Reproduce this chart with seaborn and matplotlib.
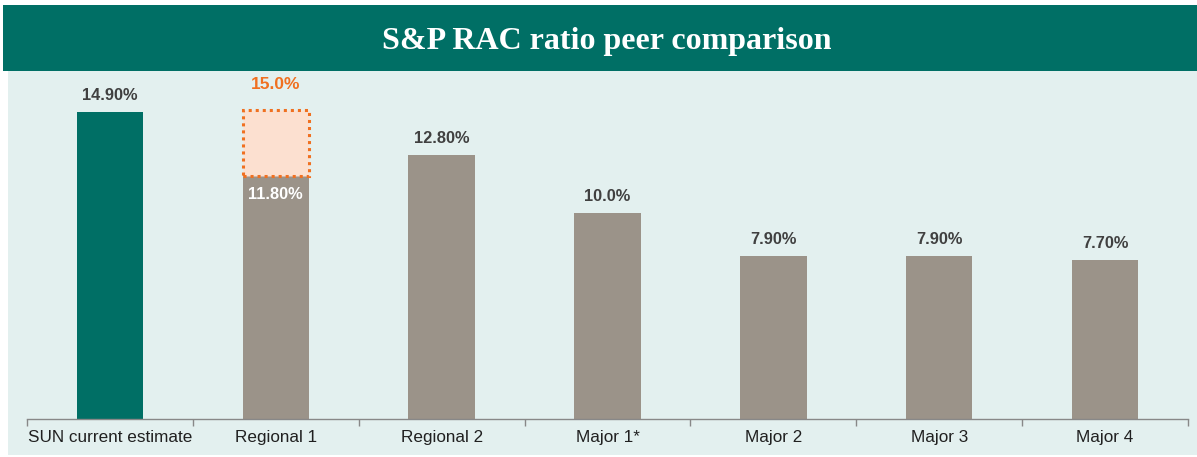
import matplotlib
matplotlib.use("Agg")
import matplotlib.pyplot as plt
import seaborn as sns
import pandas as pd
from matplotlib.patches import Rectangle

categories = ["SUN current estimate", "Regional 1", "Regional 2", "Major 1*", "Major 2", "Major 3", "Major 4"]
values = [14.9, 11.8, 12.8, 10.0, 7.9, 7.9, 7.7]
value_labels = ["14.90%", "11.80%", "12.80%", "10.0%", "7.90%", "7.90%", "7.70%"]
pro_forma_category = "Regional 1"
pro_forma_value = 15.0
pro_forma_label = "15.0%"
title = "S&P RAC ratio peer comparison"

TEAL = "#006f65"
GRAY = "#9b9389"
BG = "#e3f0ef"
ORANGE = "#f07020"
ORANGE_FILL = "#fce0d0"
TXT = "#404040"

sns.set_theme(style="white")
plt.rcParams["font.family"] = ["Liberation Sans", "DejaVu Sans"]

df = pd.DataFrame({"cat": categories, "val": values})
palette = {c: (TEAL if i == 0 else GRAY) for i, c in enumerate(categories)}

fig = plt.figure(figsize=(11.97, 4.57), dpi=100)
fig.patch.set_facecolor("white")
W, H = 1197, 457
# background panel
fig.patches.append(Rectangle((8 / W, 2 / H), (1197 - 8) / W, (457 - 70 - 2) / H,
                             transform=fig.transFigure, facecolor=BG, edgecolor="none", zorder=-2))
# header band
fig.patches.append(Rectangle((3 / W, (457 - 71) / H), (1197 - 3) / W, 66 / H,
                             transform=fig.transFigure, facecolor=TEAL, edgecolor="none", zorder=-2))
fig.text(607 / W, (457 - 42) / H, title, ha="center", va="center", color="white",
         fontsize=23, fontweight="bold", family=["Liberation Serif", "DejaVu Serif"])

ax = fig.add_axes([27 / W, (457 - 419) / H, (1188 - 27) / W, (419 - 71) / H])
ax.set_zorder(1)
ax.set_facecolor("none")
sns.barplot(data=df, x="cat", y="val", hue="cat", palette=palette, width=0.4,
            dodge=False, legend=False, ax=ax, saturation=1, edgecolor="none", linewidth=0)
ax.set_xlim(-0.5, len(categories) - 0.5)
ax.set_ylim(0, 16.9)

# pro forma box
i = categories.index(pro_forma_category)
base = values[i]
ax.add_patch(Rectangle((i - 0.2, base), 0.4, pro_forma_value - base, facecolor=ORANGE_FILL,
                       edgecolor=ORANGE, linestyle=(0, (1, 1.3)), linewidth=2.2, zorder=3))
ax.text(i, pro_forma_value + 0.9, pro_forma_label, ha="center", va="bottom", color=ORANGE,
        fontsize=12.5, fontweight="bold")

for k, (v, lab) in enumerate(zip(values, value_labels)):
    if k == i:
        ax.text(k, v - 0.55, lab, ha="center", va="top", color="white", fontsize=11.8,
                fontweight="bold", zorder=4)
    else:
        ax.text(k, v + 0.45, lab, ha="center", va="bottom", color=TXT, fontsize=11.8,
                fontweight="bold")

for s in ["top", "right", "left"]:
    ax.spines[s].set_visible(False)
ax.spines["bottom"].set_color("#888888")
ax.spines["bottom"].set_linewidth(1)
ax.set_yticks([])
ax.set_xticks([x - 0.5 for x in range(len(categories) + 1)], minor=True)
ax.tick_params(axis="x", which="minor", length=5, color="#888888", width=1, bottom=True)
ax.tick_params(axis="x", which="major", length=0, labelsize=12.3, labelcolor="#202020", pad=8)
ax.set_xlabel("")
ax.set_ylabel("")

fig.savefig("out.png", dpi=100, facecolor="white")
